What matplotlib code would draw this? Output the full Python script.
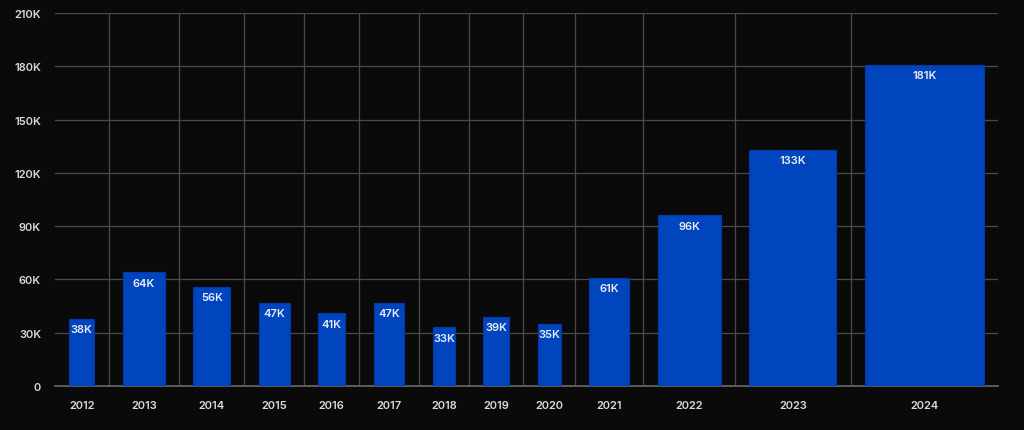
import matplotlib
matplotlib.use("Agg")
import matplotlib.pyplot as plt
import numpy as np
from matplotlib.ticker import FixedLocator, FuncFormatter

years = ["2012", "2013", "2014", "2015", "2016", "2017", "2018",
         "2019", "2020", "2021", "2022", "2023", "2024"]
values_k = [38, 64, 56, 47, 41, 47, 33, 39, 35, 61, 96, 133, 181]
labels = ["38K", "64K", "56K", "47K", "41K", "47K", "33K",
          "39K", "35K", "61K", "96K", "133K", "181K"]
y_ticks = [0, 30, 60, 90, 120, 150, 180, 210]
y_tick_labels = ["0", "30K", "60K", "90K", "120K", "150K", "180K", "210K"]

BG = "#0a0a0a"
BAR = "#0045bd"
GRID = "#4a4a4a"
TXT = "#d9d9d9"
FONT = ["Inter", "DejaVu Sans"]
plt.rcParams["font.family"] = FONT

gap = 43.7  # spacing between variable-width bars (data units)
vals = np.array(values_k, dtype=float)
slot = vals + gap
bounds = np.concatenate([[0], np.cumsum(slot)])
centers = bounds[:-1] + slot / 2

fig = plt.figure(figsize=(10.24, 4.31), dpi=100, facecolor=BG)
ax = fig.add_axes([55 / 1024, 44 / 431, 943 / 1024, 373 / 431])
ax.set_facecolor(BG)

ax.bar(centers, vals, width=vals, color=BAR, edgecolor="#003aa6",
       linewidth=0.8, zorder=3)
for c, v, lab in zip(centers, vals, labels):
    ax.text(c, v - 6.0, lab, ha="center", va="center", color="#e8ecf6",
            fontsize=8, fontweight="semibold", zorder=4)

ax.set_xlim(bounds[0], bounds[-1])
ax.set_ylim(0, 210)

ax.set_xticks(centers)
ax.set_xticklabels(years)
ax.xaxis.set_minor_locator(FixedLocator(bounds[1:-1]))
ax.set_yticks(y_ticks)
ax.set_yticklabels(y_tick_labels)

ax.tick_params(axis="both", which="both", length=0, colors=TXT,
               labelsize=8)
ax.tick_params(axis="x", pad=10)
ax.tick_params(axis="y", pad=10)
for t in ax.get_xticklabels() + ax.get_yticklabels():
    t.set_fontweight("semibold")

ax.grid(axis="y", which="major", color=GRID, linewidth=0.9, zorder=0)
ax.grid(axis="x", which="minor", color=GRID, linewidth=0.9, zorder=0)
ax.grid(axis="x", which="major", visible=False)
ax.set_axisbelow(True)

for s in ["top", "right", "left"]:
    ax.spines[s].set_visible(False)
ax.spines["bottom"].set_color("#6a6a6a")
ax.spines["bottom"].set_linewidth(1.2)

fig.savefig("out.png", dpi=100, facecolor=BG)
